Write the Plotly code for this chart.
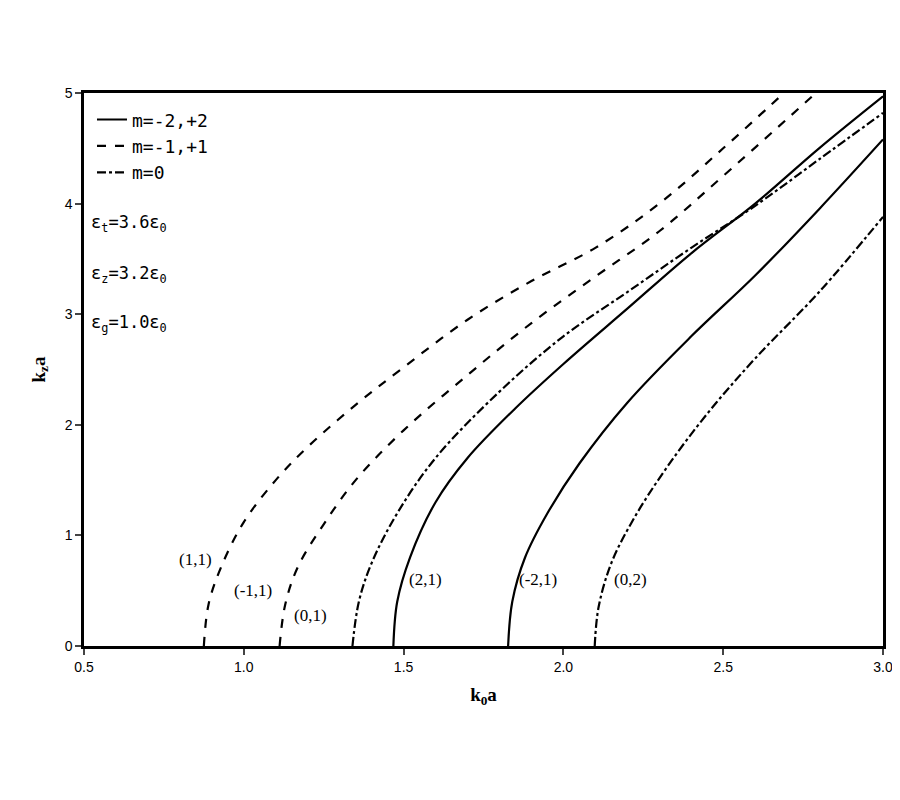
import plotly.graph_objects as go

x11 = [0.875,0.89,0.93,1.0,1.1,1.2,1.35,1.5,1.7,1.9,2.1,2.3,2.5,2.69]
y11 = [0,0.38,0.72,1.12,1.5,1.8,2.18,2.52,2.95,3.3,3.6,4.0,4.5,5.0]
xm11 = [1.112,1.13,1.17,1.25,1.35,1.5,1.7,1.9,2.1,2.3,2.5,2.79]
ym11 = [0,0.38,0.72,1.1,1.5,1.95,2.45,2.92,3.34,3.75,4.25,5.0]
x01 = [1.34,1.36,1.4,1.48,1.6,1.8,2.0,2.2,2.4,2.6,2.8,3.0]
y01 = [0,0.4,0.75,1.2,1.7,2.3,2.8,3.2,3.6,3.98,4.4,4.82]
x21 = [1.468,1.48,1.52,1.6,1.7,1.85,2.0,2.2,2.4,2.6,2.8,3.0]
y21 = [0,0.4,0.8,1.3,1.7,2.15,2.55,3.05,3.55,4.0,4.5,4.97]
xm21 = [1.827,1.84,1.88,1.95,2.05,2.2,2.4,2.6,2.8,3.0]
ym21 = [0,0.4,0.8,1.2,1.65,2.2,2.8,3.35,3.95,4.58]
x02 = [2.098,2.11,2.15,2.22,2.32,2.45,2.6,2.8,3.0]
y02 = [0,0.35,0.75,1.15,1.6,2.1,2.6,3.2,3.88]

labels = ["(1,1)", "(-1,1)", "(0,1)", "(2,1)", "(-2,1)", "(0,2)"]
label_x = [0.85, 1.03, 1.21, 1.57, 1.92, 2.21]
label_y = [0.78, 0.5, 0.28, 0.6, 0.6, 0.6]

fig = go.Figure()
K = dict(color="black", width=2.2)
def add(x, y, dash, name, show):
    fig.add_trace(go.Scatter(x=x, y=y, mode="lines", line=dict(dash=dash, shape="spline", **K),
                             name=name, showlegend=show))
add(x21, y21, "solid", "m=-2,+2", True)
add(xm21, ym21, "solid", "m=-2,+2", False)
add(x11, y11, "dash", "m=-1,+1", True)
add(xm11, ym11, "dash", "m=-1,+1", False)
add(x01, y01, "dashdot", "m=0", True)
add(x02, y02, "dashdot", "m=0", False)

for t, lx, ly in zip(labels, label_x, label_y):
    fig.add_annotation(x=lx, y=ly, text=t, showarrow=False,
                       font=dict(family="Liberation Serif", size=17, color="black"))

for t, ly in zip(["ε<sub>t</sub>=3.6ε<sub>0</sub>", "ε<sub>z</sub>=3.2ε<sub>0</sub>", "ε<sub>g</sub>=1.0ε<sub>0</sub>"], [3.82, 3.36, 2.92]):
    fig.add_annotation(x=0.515, y=ly, text=t, showarrow=False, xanchor="left",
                       font=dict(family="DejaVu Sans Mono", size=17, color="black"))

ax = dict(showgrid=False, zeroline=False, showline=True, linewidth=2.5, linecolor="black",
          mirror=True, ticks="outside", ticklen=6, tickwidth=2,
          tickfont=dict(family="Liberation Sans", size=14, color="black"))
fig.update_xaxes(range=[0.5, 3.0], dtick=0.5, tickformat=".1f",
                 title=dict(text="<b>k<sub>0</sub>a</b>", font=dict(family="Liberation Serif", size=19, color="black")), **ax)
fig.update_yaxes(range=[0, 5], dtick=1,
                 title=dict(text="<b>k<sub>z</sub>a</b>", font=dict(family="Liberation Serif", size=19, color="black")), **ax)
fig.update_layout(width=900, height=800, plot_bgcolor="white", paper_bgcolor="white",
                  margin=dict(l=76, r=25, t=85, b=162),
                  legend=dict(x=0.01, y=0.985, xanchor="left", yanchor="top", bgcolor="rgba(0,0,0,0)",
                              font=dict(family="DejaVu Sans Mono", size=18, color="black"),
                              tracegroupgap=10))
fig.write_html("out.html")
